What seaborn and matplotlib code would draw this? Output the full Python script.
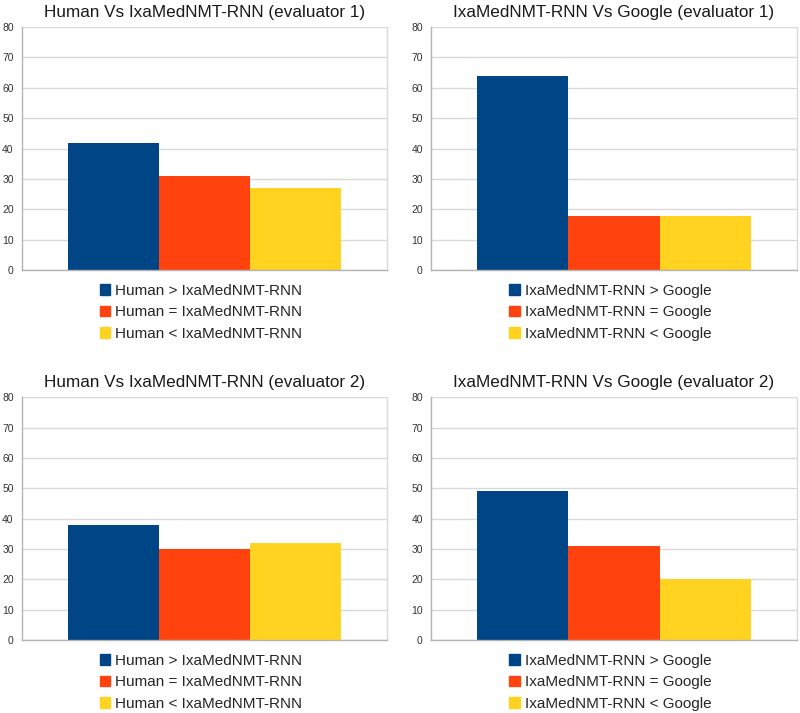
import matplotlib
matplotlib.use("Agg")
import matplotlib.pyplot as plt
import matplotlib.patches as mpatches
import seaborn as sns
import pandas as pd

# =========================
# DATA
# =========================
TITLES = [
    "Human Vs IxaMedNMT-RNN (evaluator 1)",
    "IxaMedNMT-RNN Vs Google (evaluator 1)",
    "Human Vs IxaMedNMT-RNN (evaluator 2)",
    "IxaMedNMT-RNN Vs Google (evaluator 2)",
]

human_labels = ["Human > IxaMedNMT-RNN", "Human = IxaMedNMT-RNN", "Human < IxaMedNMT-RNN"]
google_labels = ["IxaMedNMT-RNN > Google", "IxaMedNMT-RNN = Google", "IxaMedNMT-RNN < Google"]

human_eval1 = [42, 31, 27]
google_eval1 = [64, 18, 18]
human_eval2 = [38, 30, 32]
google_eval2 = [49, 31, 20]

y_ticks = [0, 10, 20, 30, 40, 50, 60, 70, 80]

COLORS = ["#004586", "#ff420e", "#ffd320"]

# =========================
# STYLE
# =========================
sns.set_style("white")
plt.rcParams["font.family"] = ["Liberation Sans", "DejaVu Sans"]

fig = plt.figure(figsize=(8, 7.13), dpi=100)

# axes boxes in figure fractions: left, bottom, width, height
boxes = [
    [0.0275, 0.621, 0.456, 0.341],
    [0.539, 0.621, 0.457, 0.341],
    [0.0275, 0.102, 0.456, 0.341],
    [0.539, 0.102, 0.457, 0.341],
]

panels = [
    (human_labels, human_eval1),
    (google_labels, google_eval1),
    (human_labels, human_eval2),
    (google_labels, google_eval2),
]

for box, title, (labels, vals) in zip(boxes, TITLES, panels):
    ax = fig.add_axes(box)
    df = pd.DataFrame({"cat": labels, "val": vals})
    sns.barplot(data=df, x="cat", y="val", hue="cat", palette=COLORS,
                saturation=1, width=1, linewidth=0, legend=False, ax=ax)

    ax.set_xlim(-1, 3)
    ax.set_ylim(0, 80)
    ax.set_yticks(y_ticks)
    ax.set_yticklabels([str(t) for t in y_ticks], fontsize=7.5, color="#333333")
    ax.set_xticks([-1, 3])
    ax.set_xticklabels(["", ""])
    ax.tick_params(axis="both", length=4, width=0.8, color="#b3b3b3", pad=2)
    ax.set_xlabel("")
    ax.set_ylabel("")

    ax.yaxis.grid(True, color="#d9d9d9", linewidth=1)
    ax.set_axisbelow(True)
    for side in ["left", "bottom", "right", "top"]:
        ax.spines[side].set_color("#d9d9d9")
        ax.spines[side].set_linewidth(1)
    ax.spines["left"].set_color("#b3b3b3")
    ax.spines["bottom"].set_color("#b3b3b3")
    ax.spines["top"].set_visible(False)

    ax.set_title(title, fontsize=12.3, color="#1a1a1a", pad=7)

    handles = [mpatches.Patch(color=c, label=l) for c, l in zip(COLORS, labels)]
    ax.legend(handles=handles, loc="upper center", bbox_to_anchor=(0.49, -0.025),
              frameon=False, fontsize=11, handlelength=0.7, handleheight=0.7,
              handletextpad=0.3, labelspacing=0.48, borderpad=0)

fig.savefig("out.png", dpi=100)
